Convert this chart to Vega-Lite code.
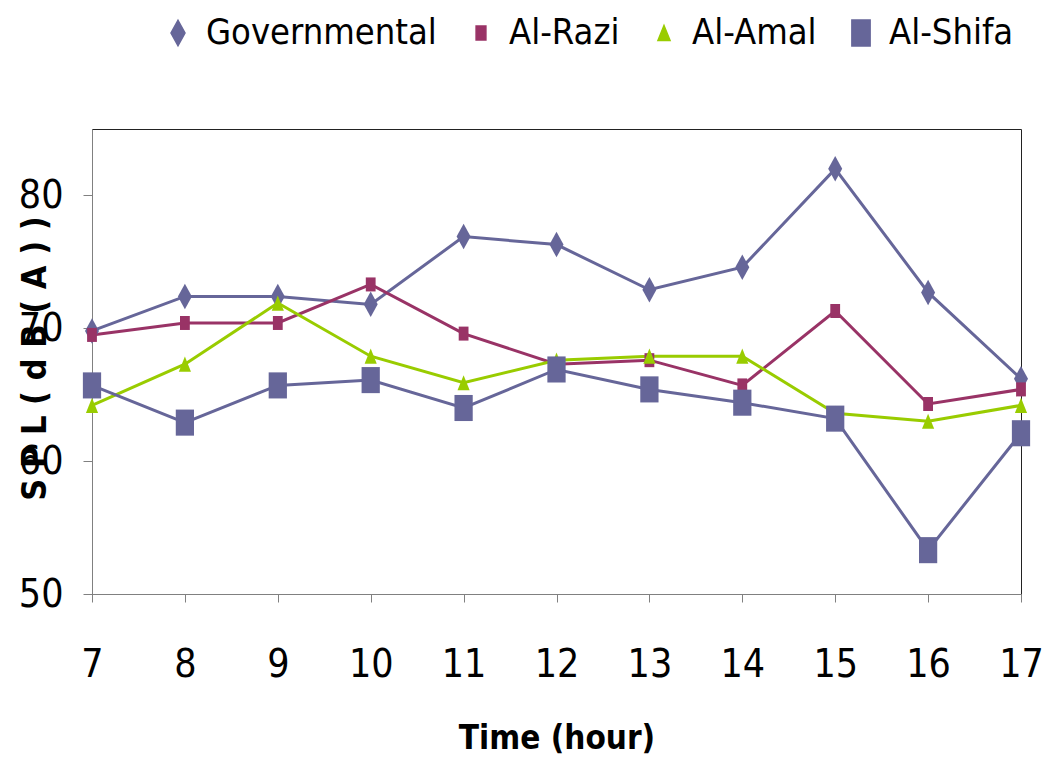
{
  "$schema": "https://vega.github.io/schema/vega-lite/v6.json",
  "width": 929,
  "height": 465,
  "autosize": "none",
  "padding": {"left": 92, "top": 129, "right": 26, "bottom": 178},
  "background": "white",
  "config": {
    "view": {"stroke": "#222", "strokeWidth": 1},
    "font": "DejaVu Sans Condensed"
  },
  "data": {"values": [
    {"hour": 7, "series": "Governmental", "spl": 69.8},
    {"hour": 8, "series": "Governmental", "spl": 72.4},
    {"hour": 9, "series": "Governmental", "spl": 72.4},
    {"hour": 10, "series": "Governmental", "spl": 71.8},
    {"hour": 11, "series": "Governmental", "spl": 76.9},
    {"hour": 12, "series": "Governmental", "spl": 76.3},
    {"hour": 13, "series": "Governmental", "spl": 72.9},
    {"hour": 14, "series": "Governmental", "spl": 74.6},
    {"hour": 15, "series": "Governmental", "spl": 82.0},
    {"hour": 16, "series": "Governmental", "spl": 72.7},
    {"hour": 17, "series": "Governmental", "spl": 66.2},
    {"hour": 7, "series": "Al-Razi", "spl": 69.5},
    {"hour": 8, "series": "Al-Razi", "spl": 70.4},
    {"hour": 9, "series": "Al-Razi", "spl": 70.4},
    {"hour": 10, "series": "Al-Razi", "spl": 73.3},
    {"hour": 11, "series": "Al-Razi", "spl": 69.6},
    {"hour": 12, "series": "Al-Razi", "spl": 67.3},
    {"hour": 13, "series": "Al-Razi", "spl": 67.6},
    {"hour": 14, "series": "Al-Razi", "spl": 65.7},
    {"hour": 15, "series": "Al-Razi", "spl": 71.3},
    {"hour": 16, "series": "Al-Razi", "spl": 64.3},
    {"hour": 17, "series": "Al-Razi", "spl": 65.4},
    {"hour": 7, "series": "Al-Amal", "spl": 64.2},
    {"hour": 8, "series": "Al-Amal", "spl": 67.3},
    {"hour": 9, "series": "Al-Amal", "spl": 71.9},
    {"hour": 10, "series": "Al-Amal", "spl": 67.9},
    {"hour": 11, "series": "Al-Amal", "spl": 65.9},
    {"hour": 12, "series": "Al-Amal", "spl": 67.6},
    {"hour": 13, "series": "Al-Amal", "spl": 67.9},
    {"hour": 14, "series": "Al-Amal", "spl": 67.9},
    {"hour": 15, "series": "Al-Amal", "spl": 63.6},
    {"hour": 16, "series": "Al-Amal", "spl": 63.0},
    {"hour": 17, "series": "Al-Amal", "spl": 64.2},
    {"hour": 7, "series": "Al-Shifa", "spl": 65.7},
    {"hour": 8, "series": "Al-Shifa", "spl": 62.9},
    {"hour": 9, "series": "Al-Shifa", "spl": 65.7},
    {"hour": 10, "series": "Al-Shifa", "spl": 66.1},
    {"hour": 11, "series": "Al-Shifa", "spl": 64.0},
    {"hour": 12, "series": "Al-Shifa", "spl": 66.9},
    {"hour": 13, "series": "Al-Shifa", "spl": 65.4},
    {"hour": 14, "series": "Al-Shifa", "spl": 64.4},
    {"hour": 15, "series": "Al-Shifa", "spl": 63.2},
    {"hour": 16, "series": "Al-Shifa", "spl": 53.3},
    {"hour": 17, "series": "Al-Shifa", "spl": 62.1}
  ]},
  "encoding": {
    "x": {
      "field": "hour", "type": "quantitative",
      "scale": {"domain": [7, 17], "nice": false, "zero": false},
      "axis": {
        "values": [7, 8, 9, 10, 11, 12, 13, 14, 15, 16, 17],
        "grid": false, "domainColor": "#808080", "tickColor": "#808080",
        "tickSize": 8, "labelFontSize": 39, "labelPadding": 43, "labelColor": "#000",
        "labelFlush": false,
        "title": "Time (hour)", "titleFontSize": 33, "titleFontWeight": "bold",
        "titlePadding": 38, "titleColor": "#000"
      }
    },
    "y": {
      "field": "spl", "type": "quantitative",
      "scale": {"domain": [50, 85], "nice": false, "zero": false},
      "axis": {
        "values": [50, 60, 70, 80],
        "grid": false, "domainColor": "#808080", "tickColor": "#808080",
        "tickSize": 9, "labelFontSize": 39, "labelPadding": 20, "labelColor": "#000",
        "labelFlush": false,
        "title": "S P L  ( d B ( A ) )", "titleFontSize": 34, "titleFontWeight": "bold",
        "titleColor": "#000",
        "titleX": -57, "titleY": 229, "titleAngle": -90, "titleBaseline": "middle", "titleAlign": "center"
      }
    },
    "color": {
      "field": "series", "type": "nominal",
      "scale": {
        "domain": ["Governmental", "Al-Razi", "Al-Amal", "Al-Shifa"],
        "range": ["#666699", "#993366", "#99CC00", "#666699"]
      },
      "legend": {
        "title": null, "orient": "none", "direction": "horizontal",
        "legendX": 68, "legendY": -114,
        "labelFontSize": 36, "labelColor": "#000", "labelOffset": 10,
        "labelLimit": 400, "columnPadding": 26, "symbolOpacity": 1
      }
    }
  },
  "layer": [
    {
      "mark": {"type": "line", "strokeWidth": 3}
    },
    {
      "mark": {"type": "point", "filled": true, "opacity": 1},
      "encoding": {
        "shape": {
          "field": "series", "type": "nominal",
          "scale": {
            "domain": ["Governmental", "Al-Razi", "Al-Amal", "Al-Shifa"],
            "range": ["M0,-1L0.55,0L0,1L-0.55,0Z", "M-0.7,-1H0.7V1H-0.7Z", "M0,-1L0.8,1H-0.8Z", "M-0.7,-1H0.7V1H-0.7Z"]
          }
        },
        "size": {
          "field": "series", "type": "nominal",
          "scale": {
            "type": "ordinal",
            "domain": ["Governmental", "Al-Razi", "Al-Amal", "Al-Shifa"],
            "range": [650, 196, 230, 680]
          },
          "legend": null
        }
      }
    }
  ]
}
